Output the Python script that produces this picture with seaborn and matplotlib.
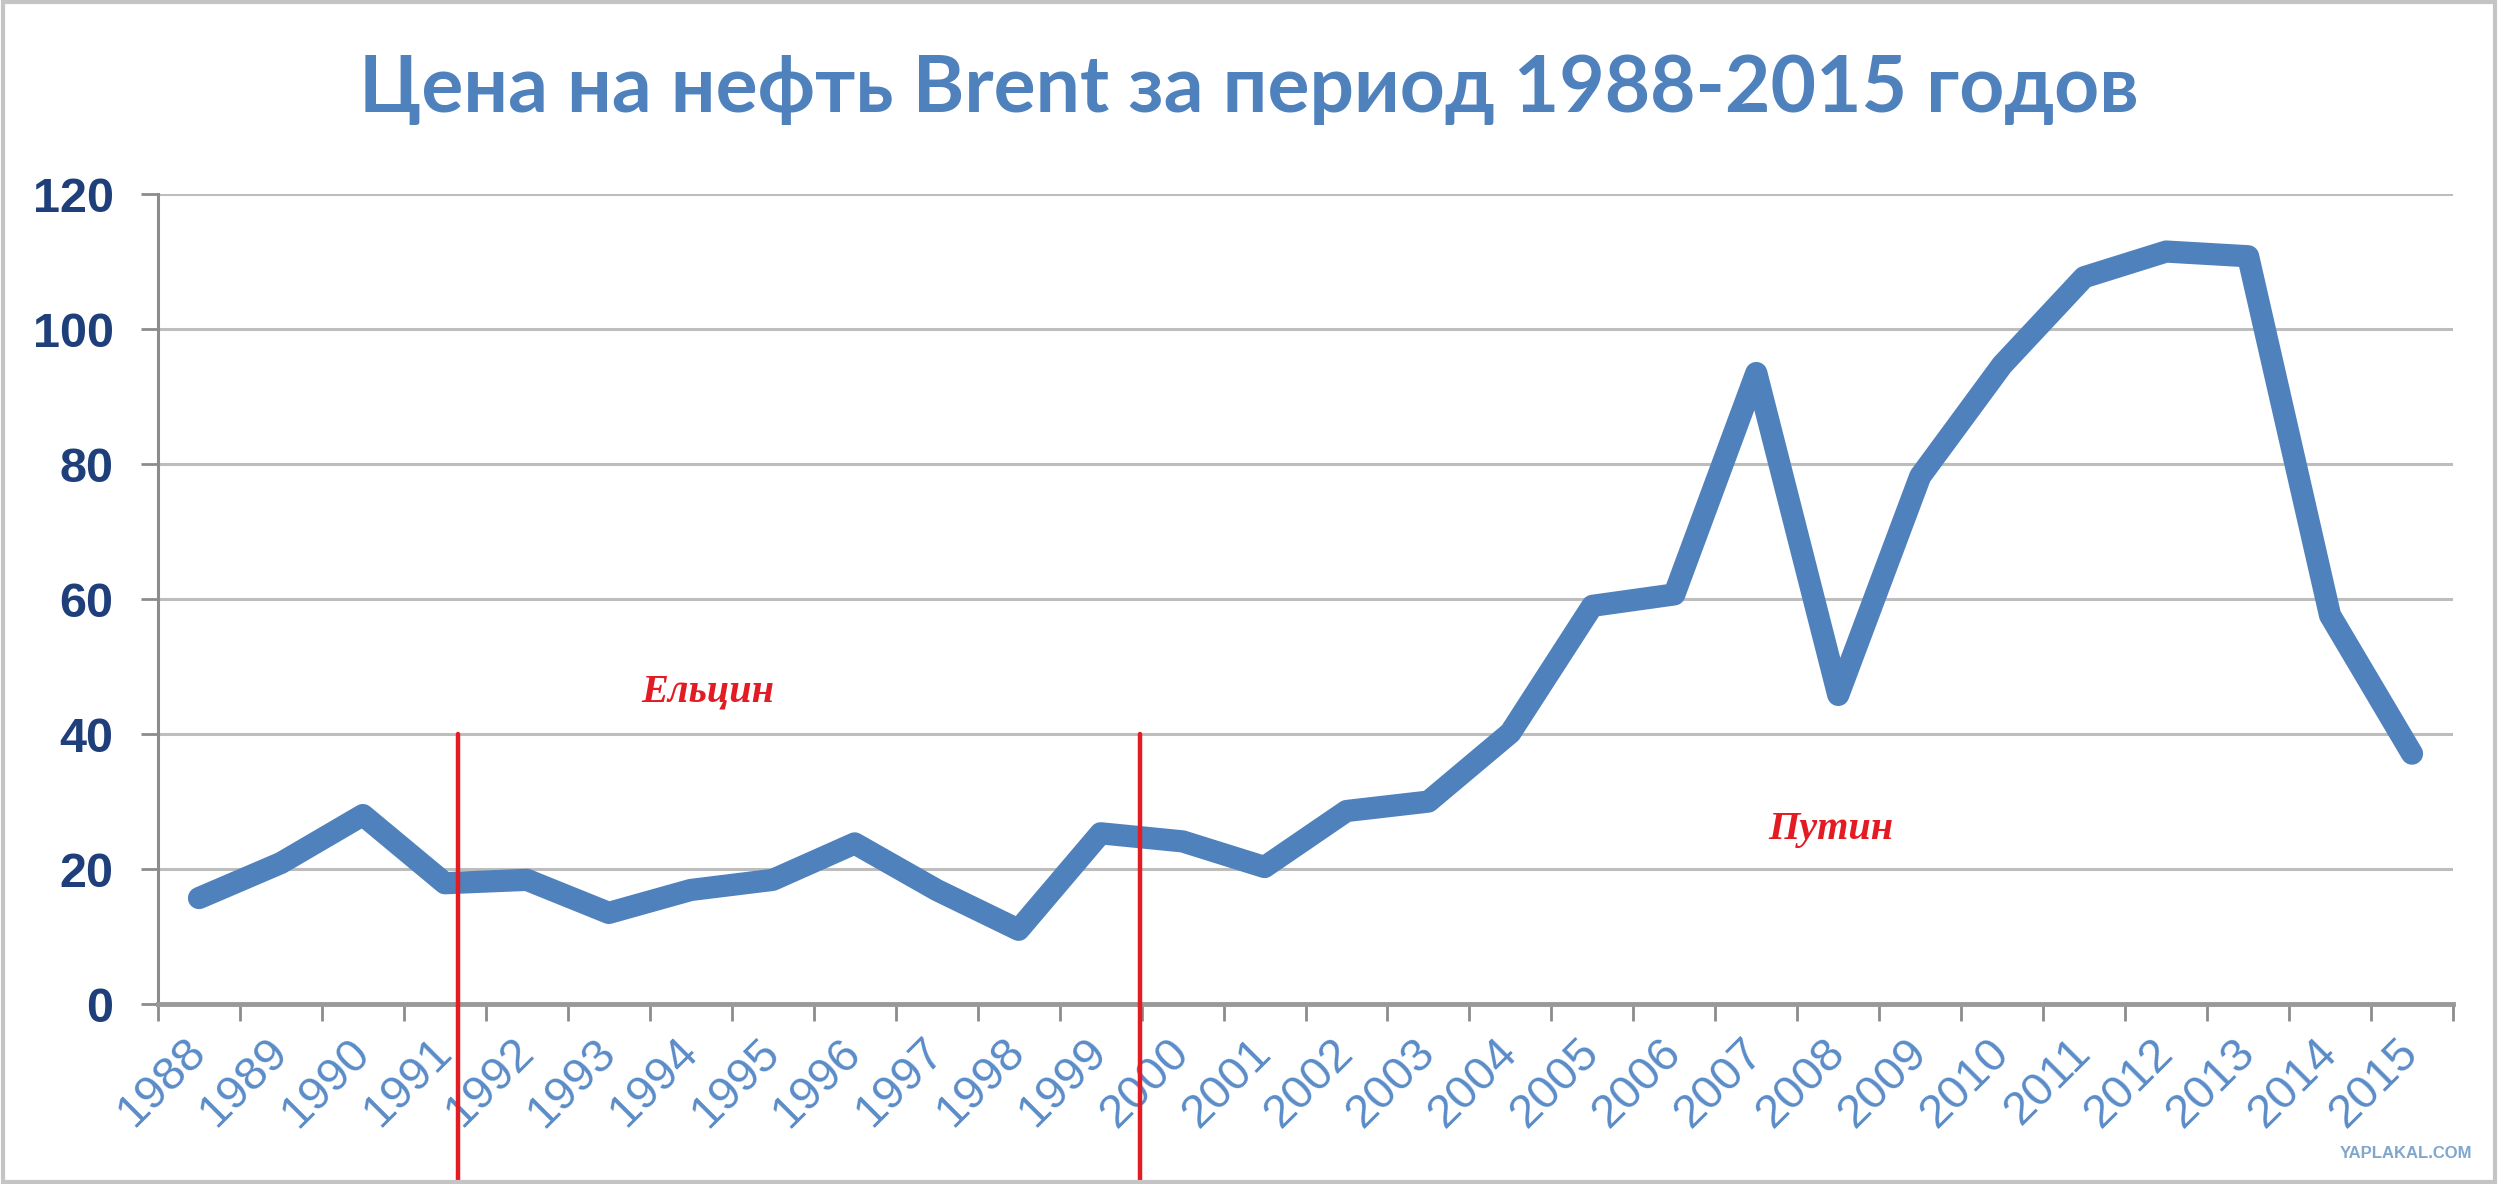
import numpy as np
import pandas as pd
import seaborn as sns
import matplotlib.pyplot as plt
from matplotlib.patches import Rectangle

years = [str(y) for y in range(1988, 2016)]
prices = [15.7, 20.9, 28.0, 17.9, 18.4, 13.5, 16.9, 18.4, 23.8, 16.9,
          11.0, 25.3, 24.1, 20.3, 28.6, 30.0, 40.2, 59.0, 60.7, 93.5,
          45.8, 78.2, 94.7, 107.7, 111.5, 110.8, 57.6, 37.1]
y_ticks = [0, 20, 40, 60, 80, 100, 120]

title = "Цена на нефть Brent за период 1988-2015 годов"
leaders = ["Ельцин", "Путин"]

BLUE = "#4F81BD"
RED = "#E31B23"

sns.set_theme(style="white")
plt.rcParams["font.family"] = ["Liberation Sans", "DejaVu Sans"]

df = pd.DataFrame({"idx": np.arange(len(years)), "price": prices})

fig = plt.figure(figsize=(25, 11.84), dpi=100)
ax = fig.add_axes([0.0632, 0.152, 0.918, 0.684])

sns.lineplot(data=df, x="idx", y="price", ax=ax, color=BLUE, linewidth=16,
             solid_joinstyle="round", solid_capstyle="round", zorder=3)

ax.set_xlim(-0.5, len(years) - 0.5)
ax.set_ylim(0, 120)
ax.set_xlabel("")
ax.set_ylabel("")

# y axis
ax.set_yticks(y_ticks)
ax.set_yticklabels([str(v) for v in y_ticks], fontsize=35, fontweight="bold", color="#1F3F7A")
ax.tick_params(axis="y", length=12, width=2, color="#8C8C8C", pad=20, left=True)
ax.yaxis.grid(True, color="#BDBDBD", linewidth=2.2)

# x axis: ticks between categories, labels at centers
ax.set_xticks(np.arange(-0.5, len(years)), minor=False)
ax.set_xticklabels([])
ax.set_xticks(np.arange(len(years)), minor=True)
ax.set_xticklabels(years, minor=True, rotation=45, ha="right", va="center",
                   rotation_mode="anchor", fontsize=34, color="#5A8CC8")
ax.tick_params(axis="x", which="major", length=12, width=2, color="#8C8C8C", bottom=True)
ax.tick_params(axis="x", which="minor", length=0, pad=30)

for side in ["top", "right"]:
    ax.spines[side].set_visible(False)
ax.spines["left"].set_color("#8C8C8C")
ax.spines["left"].set_linewidth(2.2)
ax.spines["bottom"].set_color("#999999")
ax.spines["bottom"].set_linewidth(3.5)
ax.spines["bottom"].set_zorder(4)

# red separators
for xpos in [3.16, 11.48]:
    ax.axvline(xpos, ymin=-0.23, ymax=40 / 120, color=RED, linewidth=3.2,
               clip_on=False, zorder=5)

ax.text(6.21, 44.9, leaders[0], color=RED, fontsize=29, ha="center", va="baseline",
        family=["Liberation Serif"], fontweight="bold", fontstyle="italic")
ax.text(19.91, 24.4, leaders[1], color=RED, fontsize=29, ha="center", va="baseline",
        family=["Liberation Serif"], fontweight="bold", fontstyle="italic")

fig.text(0.4996, 0.9054, title, ha="center", va="baseline", fontsize=56.5,
         fontweight="bold", color=BLUE, family=["Lato", "DejaVu Sans"])

fig.text(0.989, 0.026, "YAPLAKAL.COM", ha="right", va="center", fontsize=12,
         fontweight="bold", color="#7FA6CC")

fig.patches.append(Rectangle((0.001, 0.002), 0.997, 0.996, transform=fig.transFigure,
                             fill=False, edgecolor="#C4C4C4", linewidth=3))

fig.savefig("out.png", dpi=100)
